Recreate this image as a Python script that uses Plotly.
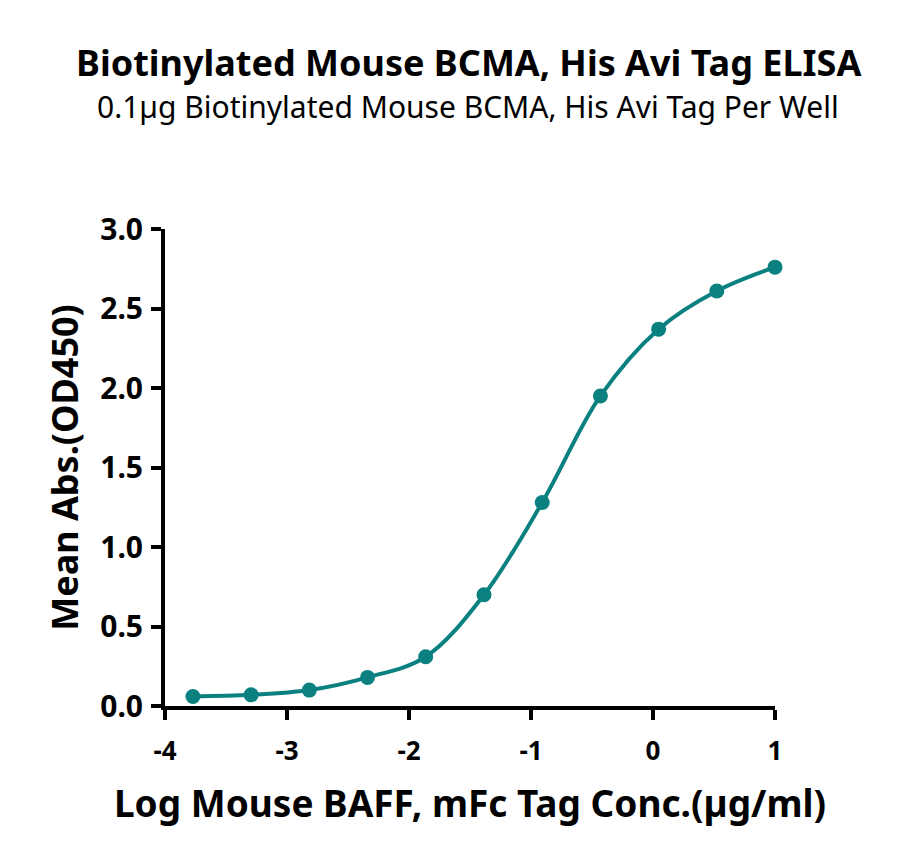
import plotly.graph_objects as go

# log10 concentration (ug/ml) and mean OD450
log_conc = [-3.771, -3.294, -2.817, -2.340, -1.863, -1.385, -0.908, -0.431, 0.046, 0.523, 1.0]
mean_abs = [0.06, 0.07, 0.10, 0.18, 0.31, 0.70, 1.28, 1.95, 2.37, 2.61, 2.76]

x_ticks = [-4, -3, -2, -1, 0, 1]
y_ticks = [0.0, 0.5, 1.0, 1.5, 2.0, 2.5, 3.0]

teal = "#0b8080"
font = "Noto Sans"

# page has an 8px body margin, so layout numbers are shifted by that
W, H = 900, 866
L, R, T, B = 157, 133, 221, 168
plot_w = W - L - R
plot_h = H - T - B


def px_x(x):
    return (x - L) / plot_w


def px_y(y):
    return (H - B - y) / plot_h


fig = go.Figure()

# fitted curve (smoothed through the points)
fig.add_trace(go.Scatter(
    x=log_conc, y=mean_abs, mode="lines",
    line=dict(color=teal, width=4, shape="spline", smoothing=1.0),
    hoverinfo="skip", cliponaxis=False,
))
fig.add_trace(go.Scatter(
    x=log_conc, y=mean_abs, mode="markers",
    marker=dict(color=teal, size=15),
    cliponaxis=False,
))

fig.update_layout(
    width=W, height=H,
    margin=dict(l=L, r=R, t=T, b=B),
    paper_bgcolor="white", plot_bgcolor="white",
    showlegend=False,
    font=dict(family=font, color="black"),
    annotations=[
        dict(text="<b>Biotinylated Mouse BCMA, His Avi Tag ELISA</b>",
             x=px_x(460), y=px_y(54), xref="paper", yref="paper",
             showarrow=False, yanchor="middle",
             font=dict(size=36, family=font)),
        dict(text="0.1µg Biotinylated Mouse BCMA, His Avi Tag Per Well",
             x=px_x(460), y=px_y(99), xref="paper", yref="paper",
             showarrow=False, yanchor="middle",
             font=dict(size=30, family=font)),
    ],
)

fig.update_xaxes(
    range=[-4, 1], tickvals=x_ticks, ticktext=[str(v) for v in x_ticks],
    showline=True, linecolor="black", linewidth=4,
    ticks="outside", ticklen=10, tickwidth=4, tickcolor="black",
    showgrid=False, zeroline=False, ticklabelstandoff=9,
    tickfont=dict(size=26, family=font, weight="bold"),
    title=dict(text="<b>Log Mouse BAFF, mFc Tag Conc.(µg/ml)</b>",
               font=dict(size=37, family=font), standoff=25),
)
fig.update_yaxes(
    range=[0, 3], tickvals=y_ticks, ticktext=[f"{v:.1f}" for v in y_ticks],
    showline=True, linecolor="black", linewidth=4,
    ticks="outside", ticklen=10, tickwidth=4, tickcolor="black",
    showgrid=False, zeroline=False, ticklabelstandoff=2,
    tickfont=dict(size=30, family=font, weight="bold"),
    title=dict(text="<b>Mean Abs.(OD450)</b>",
               font=dict(size=36, family=font), standoff=12),
)

fig.write_html("out.html")
